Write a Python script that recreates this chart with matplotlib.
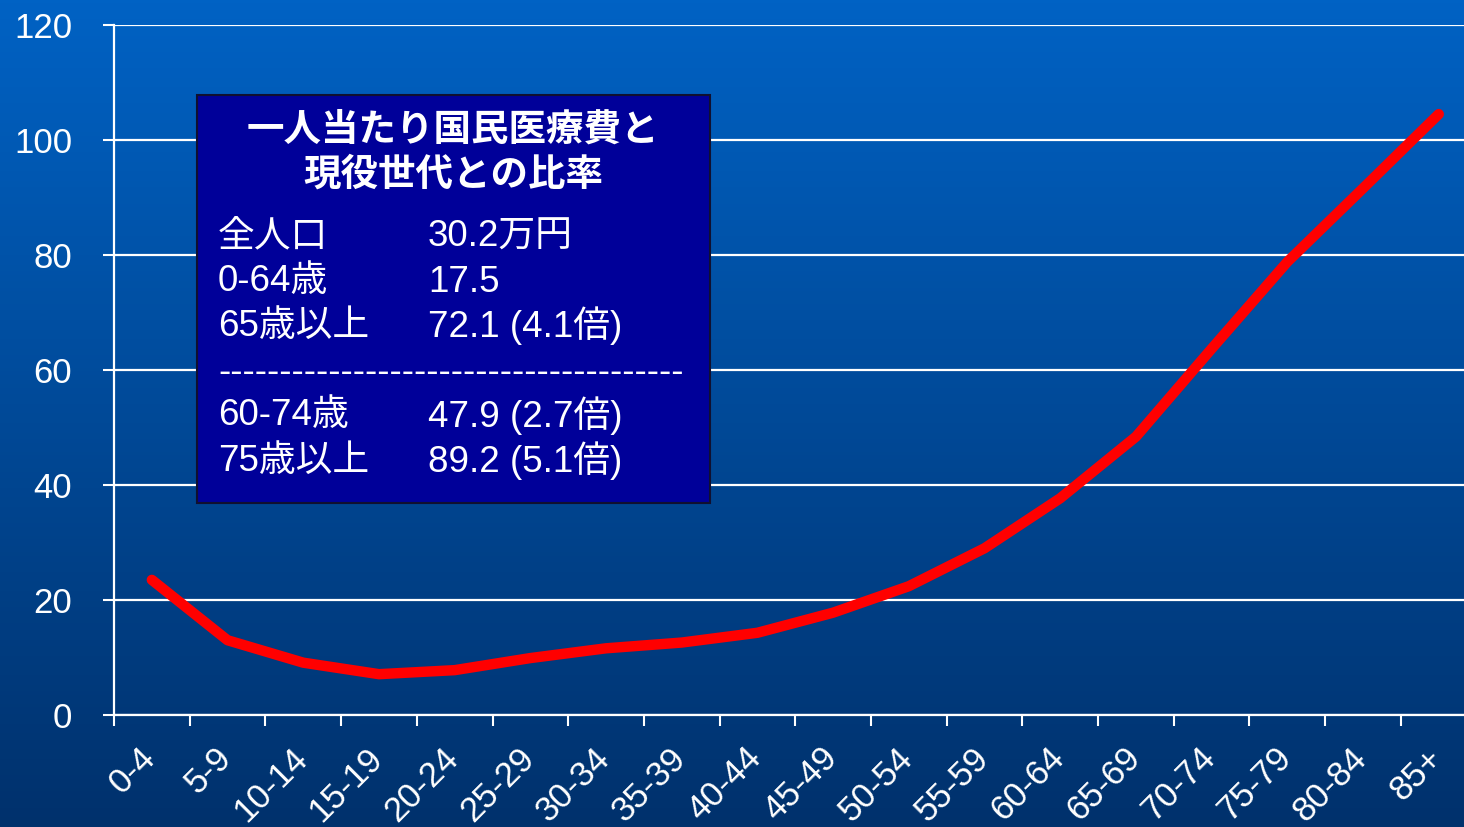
import numpy as np
import matplotlib
matplotlib.use("Agg")
import matplotlib.pyplot as plt
from matplotlib.patches import Rectangle
from matplotlib.colors import LinearSegmentedColormap
from matplotlib.transforms import ScaledTranslation

plt.rcParams['font.family'] = ['Liberation Sans', 'Noto Sans CJK JP', 'DejaVu Sans']

# data
age_groups = ['0-4', '5-9', '10-14', '15-19', '20-24', '25-29', '30-34', '35-39',
              '40-44', '45-49', '50-54', '55-59', '60-64', '65-69', '70-74',
              '75-79', '80-84', '85+']
ratio = [23.5, 13.0, 9.1, 7.1, 7.8, 9.9, 11.6, 12.6, 14.3, 17.8, 22.4, 29.0,
         37.7, 48.4, 63.7, 78.8, 91.6, 104.5]
y_ticks = [0, 20, 40, 60, 80, 100, 120]

box_title = ['一人当たり国民医療費と', '現役世代との比率']
box_left = ['全人口', '0-64歳', '65歳以上', None, '60-74歳', '75歳以上']
box_right = ['30.2万円', '17.5', '72.1 (4.1倍)', None, '47.9 (2.7倍)', '89.2 (5.1倍)']

W, H = 1464, 827
fig = plt.figure(figsize=(W / 100, H / 100), dpi=100)

# background gradient
bg = fig.add_axes([0, 0, 1, 1], zorder=-10)
cmap = LinearSegmentedColormap.from_list('bg', ['#0062C4', '#00316C'])
grad = np.linspace(0, 1, 256).reshape(-1, 1)
bg.imshow(grad, aspect='auto', cmap=cmap, extent=[0, 1, 0, 1])
bg.axis('off')

ax = fig.add_axes([114 / W, (H - 715) / H, 1362.6 / W, 690 / H])
ax.set_facecolor('none')

x = np.arange(len(age_groups))
ax.plot(x, ratio, color='#FF0000', lw=7.5, solid_capstyle='round',
        solid_joinstyle='round', zorder=5)

ax.set_xlim(-0.5, len(age_groups) - 0.5)
ax.set_ylim(0, 120)
ax.set_yticks(y_ticks)
ax.set_yticklabels([str(v) for v in y_ticks], fontsize=25, color='white')
ax.yaxis.grid(True, color='white', lw=1.6)
ax.set_axisbelow(True)

# category labels sit between boundary tick marks
ax.set_xticks(np.arange(-0.5, len(age_groups)))
ax.set_xticklabels([])
ax.tick_params(axis='x', length=8, width=1.5, color='white', direction='out')
ax.tick_params(axis='y', length=8, width=1.5, color='white', pad=22)
offset = ScaledTranslation(-1 / 100, -38 / 100, fig.dpi_scale_trans)
for i, lab in enumerate(age_groups):
    ax.text(i, 0, lab, transform=ax.get_xaxis_transform() + offset,
            rotation=45, ha='right', va='center', rotation_mode='anchor',
            fontsize=25, color='white', clip_on=False)

for s in ['top', 'right']:
    ax.spines[s].set_visible(False)
for s in ['left', 'bottom']:
    ax.spines[s].set_color('white')
    ax.spines[s].set_linewidth(1.6)

# text box
bx0, by0, bx1, by1 = 197, 95, 710, 503
fig.patches.append(Rectangle((bx0 / W, (H - by1) / H), (bx1 - bx0) / W,
                             (by1 - by0) / H, transform=fig.transFigure,
                             facecolor='#000099', edgecolor='#101030', lw=1.5,
                             zorder=10))
title_y = [131, 176]
for t, yy in zip(box_title, title_y):
    fig.text(453 / W, (H - yy) / H, t, ha='center', va='center', fontsize=27,
             fontweight='bold', color='white', zorder=11)

row_y = [237, 282, 326, 373, 416, 461]
for l, r, yy in zip(box_left, box_right, row_y):
    if l is None:
        fig.text(218 / W, (H - yy) / H, '-' * 38, ha='left', va='center',
                 fontsize=26.5, color='white', zorder=11)
        continue
    fig.text(218 / W, (H - yy) / H, l, ha='left', va='center', fontsize=26.5,
             color='white', zorder=11)
    fig.text(428 / W, (H - yy) / H, r, ha='left', va='center', fontsize=26.5,
             color='white', zorder=11)

fig.savefig('out.png', dpi=100)
